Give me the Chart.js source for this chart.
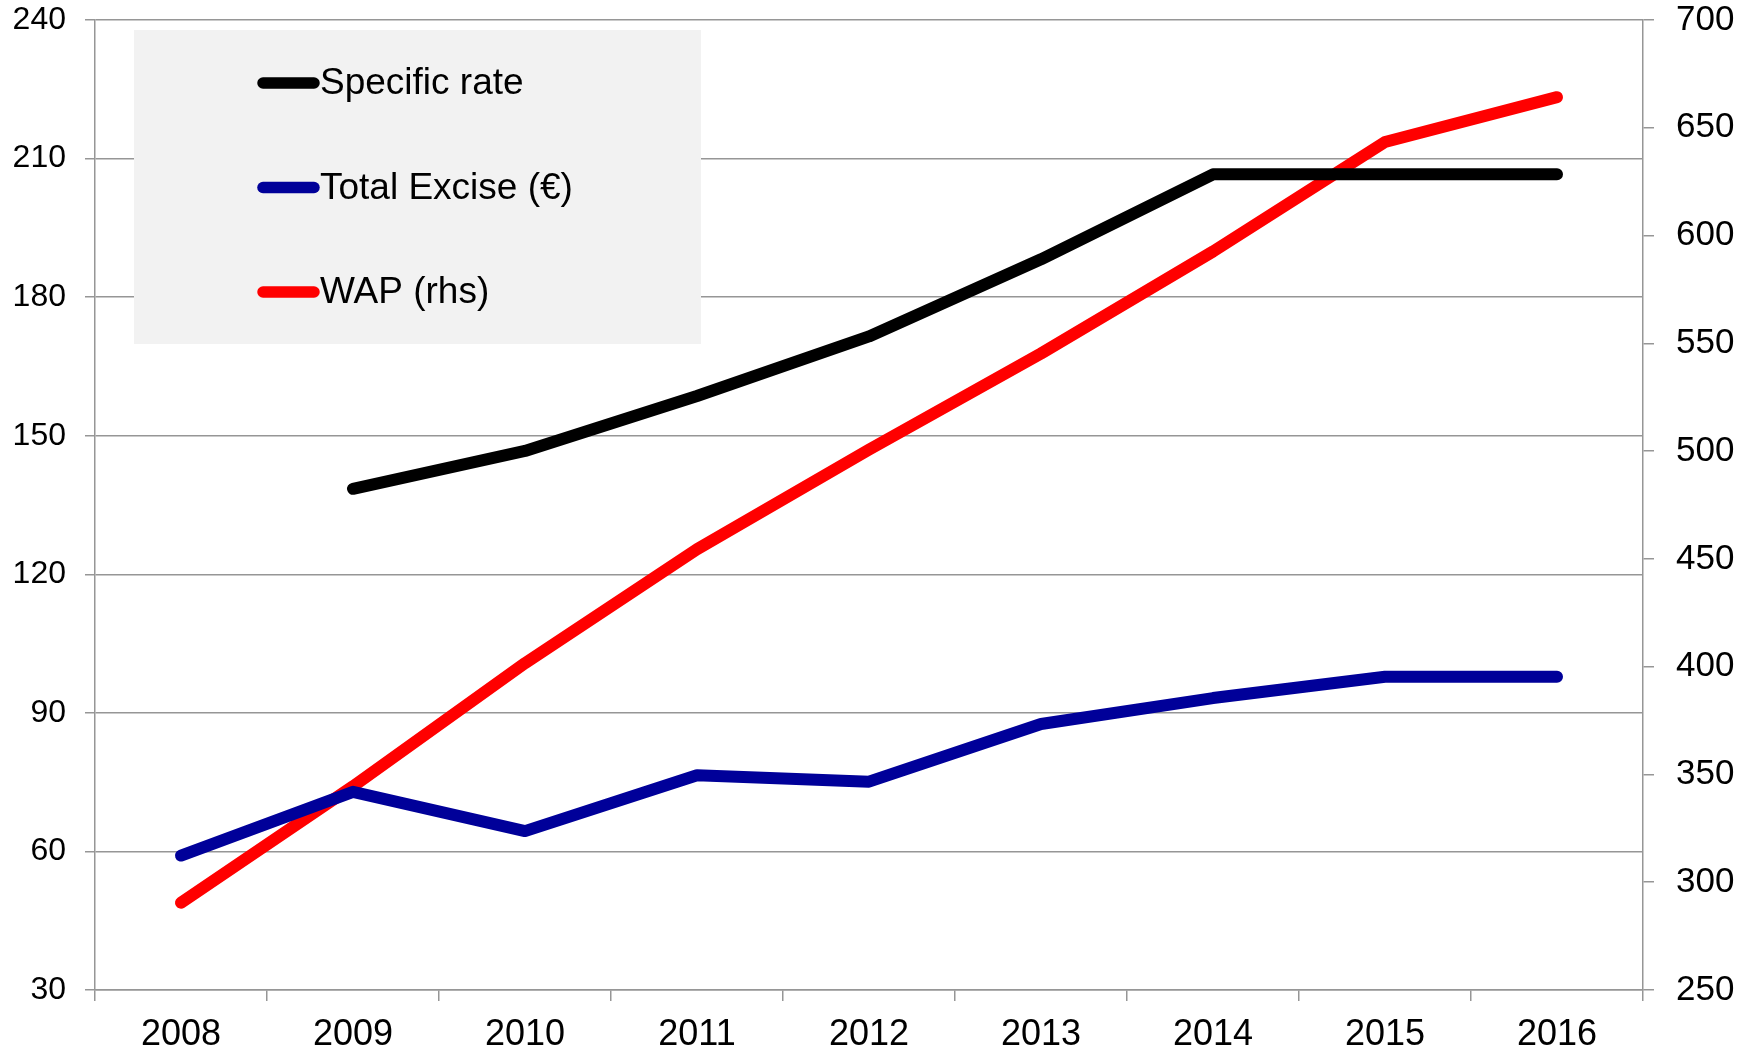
<!DOCTYPE html>
<html>
<head>
<meta charset="utf-8">
<script src="https://cdn.jsdelivr.net/npm/chart.js@4.4.1/dist/chart.umd.min.js"></script>
<style>
  html, body { margin: 0; padding: 0; background: #fff; }
  #wrap { width: 1754px; height: 1054px; }
</style>
</head>
<body>
<div id="wrap"><canvas id="chart" width="1754" height="1054"></canvas></div>
<script>
// years on the x axis
const years = ['2008', '2009', '2010', '2011', '2012', '2013', '2014', '2015', '2016'];

// left axis series
const specificRate = [null, 138.5, 146.7, 158.6, 171.5, 188.2, 206.6, 206.6, 206.6];
const totalExcise = [59.1, 72.9, 64.4, 76.5, 75.1, 87.6, 93.2, 97.8, 97.8];

// right axis series
const wap = [290.5, 344.5, 401.6, 454.5, 500.7, 545.3, 592.6, 643.4, 664.2];

const seriesLabels = ['Specific rate', 'Total Excise (€)', 'WAP (rhs)'];
const seriesColors = ['#000000', '#000099', '#ff0000'];

const fontFamily = '"Liberation Sans", Arial, sans-serif';
const gridGrey = '#969696';

/* Draws the legend box inside the plot area, like the original */
const boxLegend = {
    id: 'boxLegend',
    beforeDatasetsDraw(chart) {
        const ctx = chart.ctx;
        const x = 134, y = 30, w = 567, h = 314;
        ctx.save();
        ctx.fillStyle = '#f2f2f2';
        ctx.fillRect(x, y, w, h);
        ctx.font = '37px ' + fontFamily;
        ctx.textBaseline = 'middle';
        chart.data.datasets.forEach(function (ds, i) {
            const rowY = 83 + i * 104.5;
            ctx.strokeStyle = ds.borderColor;
            ctx.lineWidth = 11.5;
            ctx.lineCap = 'round';
            ctx.beginPath();
            ctx.moveTo(263, rowY);
            ctx.lineTo(314, rowY);
            ctx.stroke();
            ctx.fillStyle = '#000';
            ctx.fillText(ds.label, 320, rowY + 1);
        });
        ctx.restore();
    }
};

function makeDataset(i, values, axis) {
    return {
        label: seriesLabels[i],
        data: values,
        yAxisID: axis,
        borderColor: seriesColors[i],
        backgroundColor: seriesColors[i],
        borderWidth: 12,
        borderCapStyle: 'round',
        borderJoinStyle: 'round',
        pointRadius: 0,
        tension: 0,
        spanGaps: false
    };
}

function noPadY(scale) {
    scale.paddingTop = 0;
    scale.paddingBottom = 0;
}

const chart = new Chart(document.getElementById('chart'), {
    type: 'line',
    data: {
        labels: years,
        datasets: [
            makeDataset(0, specificRate, 'yLeft'),
            makeDataset(1, totalExcise, 'yLeft'),
            makeDataset(2, wap, 'yRight')
        ]
    },
    plugins: [boxLegend],
    options: {
        responsive: false,
        animation: false,
        layout: { padding: { top: 20, left: 0, right: 0, bottom: 0 } },
        plugins: {
            legend: { display: false },
            tooltip: { enabled: false }
        },
        scales: {
            x: {
                offset: true,
                grid: {
                    offset: true,
                    drawOnChartArea: false,
                    drawTicks: true,
                    tickLength: 11,
                    color: gridGrey,
                    lineWidth: 1.5
                },
                border: { color: gridGrey, width: 1.5 },
                ticks: {
                    color: '#000',
                    font: { family: fontFamily, size: 36 },
                    padding: 12,
                    maxRotation: 0
                },
                afterFit(scale) {
                    scale.height = 64;
                    scale.paddingLeft = 0;
                    scale.paddingRight = 0;
                }
            },
            yLeft: {
                position: 'left',
                min: 30,
                max: 240,
                ticks: {
                    stepSize: 30,
                    color: '#000',
                    font: { family: fontFamily, size: 32 },
                    padding: 19
                },
                grid: {
                    color: gridGrey,
                    lineWidth: 1.5,
                    tickLength: 10
                },
                border: { color: gridGrey, width: 1.5 },
                afterFit(scale) { scale.width = 95; noPadY(scale); }
            },
            yRight: {
                position: 'right',
                min: 250,
                max: 700,
                ticks: {
                    stepSize: 50,
                    color: '#000',
                    font: { family: fontFamily, size: 35 },
                    padding: 22
                },
                grid: {
                    drawOnChartArea: false,
                    color: gridGrey,
                    lineWidth: 1.5,
                    tickLength: 11
                },
                border: { color: gridGrey, width: 1.5 },
                afterFit(scale) { scale.width = 111; noPadY(scale); }
            }
        }
    }
});
</script>
</body>
</html>
